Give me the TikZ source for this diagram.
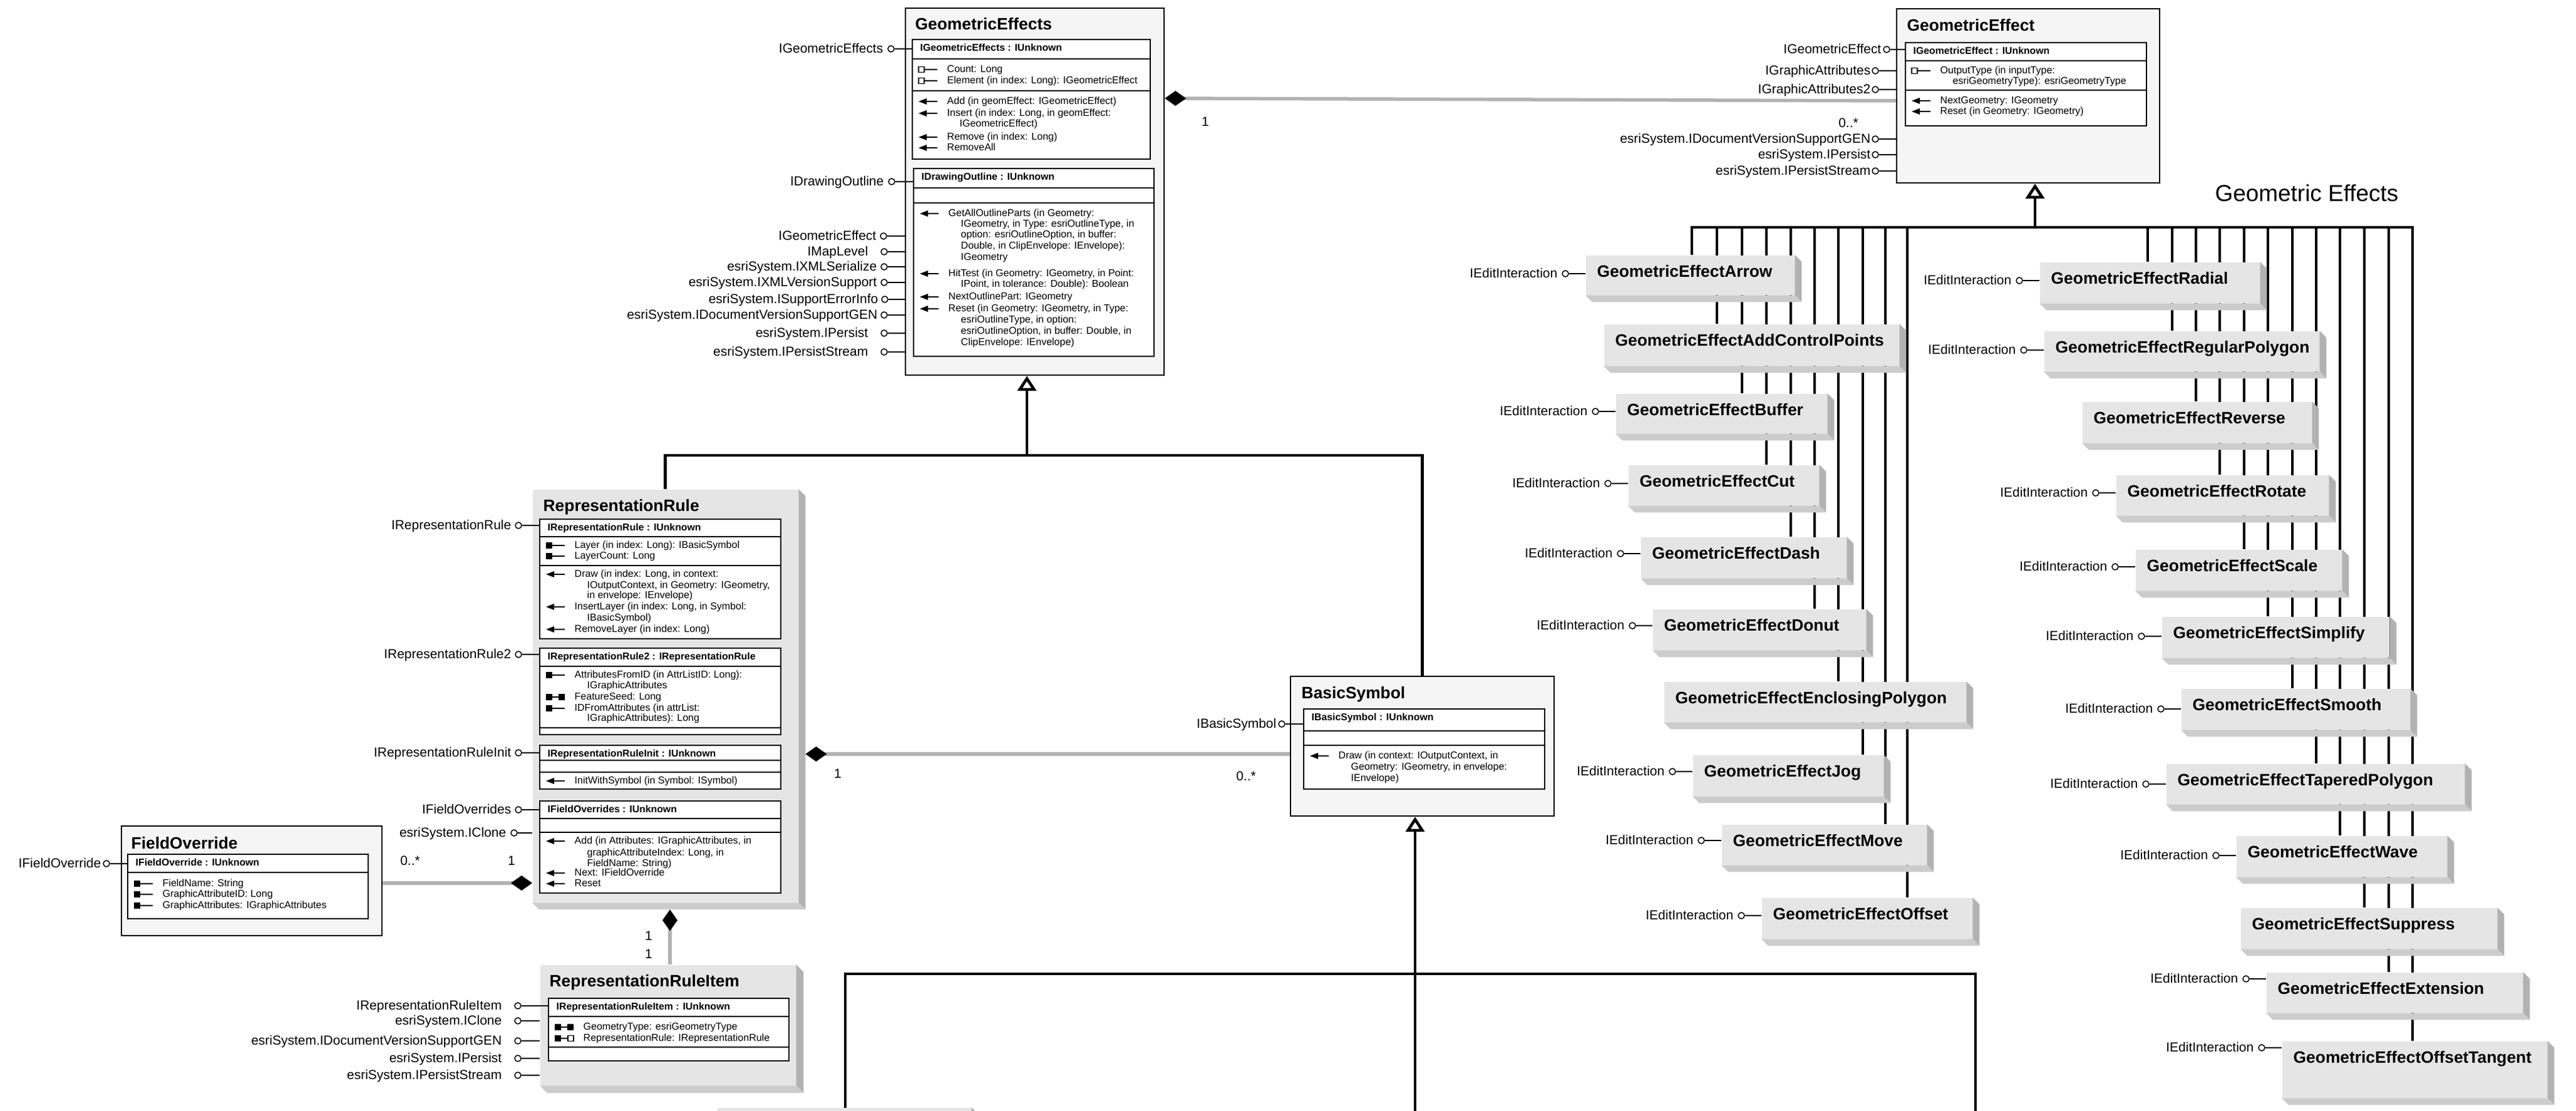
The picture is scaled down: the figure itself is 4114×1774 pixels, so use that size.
\documentclass[tikz,border=0pt]{standalone}
\usepackage{fontspec}
\setmainfont{Liberation Sans}
\usetikzlibrary{arrows.meta,backgrounds}

% text sizes, one picture unit is 0.1mm
\newcommand\fttl{\fontsize{7.5pt}{9pt}\selectfont\bfseries}
\newcommand\flab{\fontsize{5.97pt}{7pt}\selectfont}
\newcommand\fhdr{\fontsize{4.5pt}{5.4pt}\selectfont\bfseries}
\newcommand\fmem{\fontsize{4.55pt}{5.4pt}\selectfont}
\newcommand\fbig{\fontsize{10.5pt}{12pt}\selectfont}

\newcounter{mln}
\newcounter{lol}

\tikzset{
  ttl/.style={font=\fttl,inner sep=0pt,anchor=west,text height=1.9mm,text depth=0.32mm},
  lab/.style={font=\flab,inner sep=0pt,anchor=east,text height=1.5mm,text depth=0.25mm},
  mult/.style={font=\flab,inner sep=0pt,text height=1.5mm,text depth=0.25mm},
  hdr/.style={font=\fhdr,inner sep=0pt,anchor=west,text height=1.12mm,text depth=0.19mm},
  mem/.style={font=\fmem,inner sep=0pt,anchor=west,text height=1.15mm,text depth=0.2mm},
  cls/.style={draw,fill=black!4,line width=0.22mm,anchor=north west,inner sep=0pt},
  ibx/.style={draw,fill=white,line width=0.2mm,anchor=north west,inner sep=0pt},
  face/.style={fill=black!10,anchor=north west,inner sep=0pt},
  shR/.style={fill=black!30},
  shB/.style={fill=black!20},
  sect/.style={line width=0.2mm},
  icl/.style={line width=0.18mm},
  lolc/.style={circle,draw,line width=0.15mm,minimum size=1.0mm,inner sep=0pt},
  stick/.style={line width=0.18mm},
  gen/.style={line width=0.46mm,line join=miter},
  genarr/.style={gen,-{Triangle[open,length=2.4mm,width=3.0mm]}},
  comp/.style={draw=black!30,line width=0.55mm,
    -{Diamond[color=black,length=3.4mm,width=2.4mm,line width=0pt]}},
}

% box from its corners (l,t) (r,b)
\newcommand\clsbox[6][cls]{%
  \node[#1,minimum width={(#5-#3)*0.1mm},minimum height={(#6-#4)*0.1mm}] (#2) at (#3,#4) {};}
\newcommand\bevel[2][1.1mm]{%
  \fill[shR] (#2.north east) -- ++(#1,-#1) -- ([shift={(#1,-#1)}]#2.south east) -- (#2.south east) -- cycle;
  \fill[shB] (#2.south west) -- (#2.south east) -- ([shift={(#1,-#1)}]#2.south east)
    -- ([shift={(#1,-#1)}]#2.south west) -- cycle;}
\newcommand\intbox[7]{%
  \clsbox[ibx]{#1}{#2}{#3}{#4}{#5}
  \foreach \d in {#6} {\draw[sect] (#2,\d) -- (#4,\d);}
  \node[hdr] (#1-h) at (#2+13,#3+15) {#7};}
% m method, g get, f get (filled), w get/put, r get/putref
\newcommand\micon[3]{%
  \if m#1\fill (#2,#3) -- (#2+13,#3-5) -- (#2+13,#3+5) -- cycle; \draw[icl] (#2+11,#3) -- (#2+30,#3);\fi
  \if g#1\draw[icl] (#2,#3-4.5) rectangle (#2+9,#3+4.5) (#2+9,#3) -- (#2+30,#3);\fi
  \if f#1\fill (#2,#3-5) rectangle (#2+10,#3+5); \draw[icl] (#2+10,#3) -- (#2+30,#3);\fi
  \if w#1\fill (#2,#3-5) rectangle (#2+10,#3+5) (#2+20,#3-5) rectangle (#2+30,#3+5);
    \draw[icl] (#2+10,#3) -- (#2+20,#3);\fi
  \if r#1\fill (#2,#3-5) rectangle (#2+10,#3+5);
    \draw[icl] (#2+10,#3) -- (#2+21,#3) (#2+21,#3-4.5) rectangle (#2+30,#3+4.5);\fi}
\newcommand\mline[4]{%
  \stepcounter{mln}\edef\mname{m\arabic{mln}}%
  \if n#3\node[mem] (\mname) at (#1+76,#2) {#4};%
  \else\node[mem] (\mname) at (#1+56,#2) {#4};\micon{#3}{#1+11}{#2}\fi}
\newcommand\lolly[5]{%
  \stepcounter{lol}\edef\lname{o\arabic{lol}}%
  \node[lolc] (\lname) at (#1,#2) {};
  \node[lab] (\lname-t) at (#3,#2) {#5};
  \draw[stick] (\lname) -- (\lname -| #4.west);}

\begin{document}
\begin{tikzpicture}[x=0.1mm,y=-0.1mm]
	\useasboundingbox (0,0) rectangle (4114,1774);
	\clip (0,0) rectangle (4114,1774);

	% GeometricEffects
	\clsbox{gfx}{1445}{12}{1858}{598}
	\node[ttl] (gfx-t) at (1461,40) {GeometricEffects};
	\intbox{ige}{1456}{62}{1836}{253}{94,145}{IGeometricEffects : IUnknown}
	\mline{1456}{111}{g}{Count: Long}
	\mline{1456}{129}{g}{Element (in index: Long): IGeometricEffect}
	\mline{1456}{162}{m}{Add (in geomEffect: IGeometricEffect)}
	\mline{1456}{181}{m}{Insert (in index: Long, in geomEffect:}
	\mline{1456}{198}{n}{IGeometricEffect)}
	\mline{1456}{219}{m}{Remove (in index: Long)}
	\mline{1456}{236}{m}{RemoveAll}
	\intbox{ido}{1458}{268}{1842}{568}{300,324}{IDrawingOutline : IUnknown}
	\mline{1458}{341}{m}{GetAllOutlineParts (in Geometry:}
	\mline{1458}{358}{n}{IGeometry, in Type: esriOutlineType, in}
	\mline{1458}{375}{n}{option: esriOutlineOption, in buffer:}
	\mline{1458}{393}{n}{Double, in ClipEnvelope: IEnvelope):}
	\mline{1458}{411}{n}{IGeometry}
	\mline{1458}{437}{m}{HitTest (in Geometry: IGeometry, in Point:}
	\mline{1458}{454}{n}{IPoint, in tolerance: Double): Boolean}
	\mline{1458}{474}{m}{NextOutlinePart: IGeometry}
	\mline{1458}{493}{m}{Reset (in Geometry: IGeometry, in Type:}
	\mline{1458}{511}{n}{esriOutlineType, in option:}
	\mline{1458}{529}{n}{esriOutlineOption, in buffer: Double, in}
	\mline{1458}{547}{n}{ClipEnvelope: IEnvelope)}
	\lolly{1423}{78}{1411}{ige}{IGeometricEffects}
	\lolly{1424}{290}{1412}{ido}{IDrawingOutline}
	\lolly{1411}{377}{1400}{gfx}{IGeometricEffect}
	\lolly{1412}{402}{1387}{gfx}{IMapLevel}
	\lolly{1412}{426}{1401}{gfx}{esriSystem.IXMLSerialize}
	\lolly{1412}{451}{1401}{gfx}{esriSystem.IXMLVersionSupport}
	\lolly{1413}{478}{1403}{gfx}{esriSystem.ISupportErrorInfo}
	\lolly{1412}{503}{1402}{gfx}{esriSystem.IDocumentVersionSupportGEN}
	\lolly{1412}{532}{1387}{gfx}{esriSystem.IPersist}
	\lolly{1412}{562}{1387}{gfx}{esriSystem.IPersistStream}

	% GeometricEffect
	\clsbox{gf}{3028}{13}{3448}{291}
	\node[ttl] (gf-t) at (3045,42) {GeometricEffect};
	\intbox{igf}{3042}{67}{3427}{200}{97,144}{IGeometricEffect : IUnknown}
	\mline{3042}{113}{g}{OutputType (in inputType:}
	\mline{3042}{130}{n}{esriGeometryType): esriGeometryType}
	\mline{3042}{161}{m}{NextGeometry: IGeometry}
	\mline{3042}{178}{m}{Reset (in Geometry: IGeometry)}
	\lolly{3013}{79}{3005}{igf}{IGeometricEffect}
	\lolly{2995}{113}{2988}{gf}{IGraphicAttributes}
	\lolly{2995}{143}{2988}{gf}{IGraphicAttributes2}
	\lolly{2995}{222}{2988}{gf}{esriSystem.IDocumentVersionSupportGEN}
	\lolly{2995}{247}{2988}{gf}{esriSystem.IPersist}
	\lolly{2995}{273}{2988}{gf}{esriSystem.IPersistStream}

	% RepresentationRule
	\clsbox[face]{rr}{850}{781}{1274}{1440}
	\bevel{rr}
	\node[ttl] (rr-t) at (867,809) {RepresentationRule};
	\intbox{irr}{861}{828}{1246}{1019}{857,903}{IRepresentationRule : IUnknown}
	\mline{861}{871}{f}{Layer (in index: Long): IBasicSymbol}
	\mline{861}{888}{f}{LayerCount: Long}
	\mline{861}{917}{m}{Draw (in index: Long, in context:}
	\mline{861}{935}{n}{IOutputContext, in Geometry: IGeometry,}
	\mline{861}{951}{n}{in envelope: IEnvelope)}
	\mline{861}{969}{m}{InsertLayer (in index: Long, in Symbol:}
	\mline{861}{987}{n}{IBasicSymbol)}
	\mline{861}{1005}{m}{RemoveLayer (in index: Long)}
	\intbox{irr2}{861}{1034}{1246}{1172}{1064,1162}{IRepresentationRule2 : IRepresentationRule}
	\mline{861}{1078}{f}{AttributesFromID (in AttrListID: Long):}
	\mline{861}{1095}{n}{IGraphicAttributes}
	\mline{861}{1113}{w}{FeatureSeed: Long}
	\mline{861}{1131}{f}{IDFromAttributes (in attrList:}
	\mline{861}{1147}{n}{IGraphicAttributes): Long}
	\intbox{irri}{861}{1189}{1246}{1259}{1214,1233}{IRepresentationRuleInit : IUnknown}
	\mline{861}{1247}{m}{InitWithSymbol (in Symbol: ISymbol)}
	\intbox{ifos}{861}{1278}{1246}{1425}{1307,1329}{IFieldOverrides : IUnknown}
	\mline{861}{1343}{m}{Add (in Attributes: IGraphicAttributes, in}
	\mline{861}{1362}{n}{graphicAttributeIndex: Long, in}
	\mline{861}{1379}{n}{FieldName: String)}
	\mline{861}{1394}{m}{Next: IFieldOverride}
	\mline{861}{1411}{m}{Reset}
	\lolly{828}{839}{817}{irr}{IRepresentationRule}
	\lolly{828}{1045}{817}{irr2}{IRepresentationRule2}
	\lolly{828}{1202}{817}{irri}{IRepresentationRuleInit}
	\lolly{828}{1293}{817}{ifos}{IFieldOverrides}
	\lolly{821}{1330}{809}{rr}{esriSystem.IClone}

	% BasicSymbol
	\clsbox{bs}{2060}{1079}{2481}{1302}
	\node[ttl] (bs-t) at (2078,1108) {BasicSymbol};
	\intbox{ibs}{2081}{1131}{2466}{1259}{1167,1190}{IBasicSymbol : IUnknown}
	\mline{2081}{1207}{m}{Draw (in context: IOutputContext, in}
	\mline{2081}{1225}{n}{Geometry: IGeometry, in envelope:}
	\mline{2081}{1243}{n}{IEnvelope)}
	\lolly{2047}{1156}{2039}{ibs}{IBasicSymbol}

	% FieldOverride
	\clsbox{fo}{193}{1318}{609}{1493}
	\node[ttl] (fo-t) at (209,1348) {FieldOverride};
	\intbox{ifo}{203}{1363}{587}{1466}{1393}{IFieldOverride : IUnknown}
	\mline{203}{1411}{f}{FieldName: String}
	\mline{203}{1428}{f}{GraphicAttributeID: Long}
	\mline{203}{1446}{f}{GraphicAttributes: IGraphicAttributes}
	\lolly{170}{1379}{162}{ifo}{IFieldOverride}

	% RepresentationRuleItem
	\clsbox[face]{rri}{862}{1540}{1270}{1732}
	\bevel[1.2mm]{rri}
	\node[ttl] (rri-t) at (877,1568) {RepresentationRuleItem};
	\intbox{iri}{875}{1593}{1259}{1693}{1623,1672}{IRepresentationRuleItem : IUnknown}
	\mline{875}{1640}{w}{GeometryType: esriGeometryType}
	\mline{875}{1658}{r}{RepresentationRule: IRepresentationRule}
	\lolly{827}{1606}{802}{iri}{IRepresentationRuleItem}
	\lolly{827}{1630}{802}{rri}{esriSystem.IClone}
	\lolly{827}{1662}{802}{rri}{esriSystem.IDocumentVersionSupportGEN}
	\lolly{827}{1690}{802}{rri}{esriSystem.IPersist}
	\lolly{827}{1717}{802}{rri}{esriSystem.IPersistStream}

	% geometric effect classes, hung from the bus at y=363
	\foreach \nm/\l/\t/\r/\b/\lx/\ly/\ttx in {
		arw/2532/407/2865/470/2702/437/GeometricEffectArrow,
		acp/2561/517/3032/583/2742/0/GeometricEffectAddControlPoints,
		buf/2580/628/2917/691/2782/657/GeometricEffectBuffer,
		cut/2600/742/2904/806/2821/772/GeometricEffectCut,
		dsh/2620/857/2948/922/2860/884/GeometricEffectDash,
		dnt/2639/972/2979/1037/2898/999/GeometricEffectDonut,
		enc/2657/1088/3139/1152/2936/0/GeometricEffectEnclosingPolygon,
		jog/2703/1205/3007/1270/2975/1232/GeometricEffectJog,
		mov/2749/1316/3076/1380/3011/1342/GeometricEffectMove,
		off/2813/1433/3149/1498/3046/1462/GeometricEffectOffset,
		rad/3257/418/3608/483/3430/448/GeometricEffectRadial,
		rpg/3264/528/3703/592/3469/559/GeometricEffectRegularPolygon,
		rev/3325/641/3691/706/3507/0/GeometricEffectReverse,
		rot/3379/758/3718/822/3545/787/GeometricEffectRotate,
		scl/3410/877/3739/942/3584/905/GeometricEffectScale,
		smp/3452/984/3815/1049/3622/1016/GeometricEffectSimplify,
		smo/3483/1099/3848/1164/3661/1132/GeometricEffectSmooth,
		tpg/3459/1219/3935/1283/3699/1252/GeometricEffectTaperedPolygon,
		wav/3571/1334/3907/1399/3737/1366/GeometricEffectWave,
		sup/3578/1449/3987/1514/3776/0/GeometricEffectSuppress,
		ext/3619/1552/4028/1616/3815/1563/GeometricEffectExtension,
		otg/3644/1662/4067/1752/3853/1673/GeometricEffectOffsetTangent}
	{
		\clsbox[face]{\nm}{\l}{\t}{\r}{\b}
		\bevel{\nm}
		\node[ttl] (\nm-t) at (\l+18,\t+27.5) {\ttx};
		\coordinate (\nm-b) at (\lx,363);
		\begin{scope}[on background layer]
			\draw[gen] (\nm-b) -- (\nm-b |- \nm.north);
		\end{scope}
		\ifnum\ly>0 \lolly{\l-32}{\ly}{\l-44}{\nm}{IEditInteraction}\fi
	}
	\begin{scope}[on background layer]
		\draw[gen] (arw-b |- arw.north) -- (arw-b) -- (otg-b) -- (otg-b |- otg.north);
	\end{scope}
	\node[font=\fbig,inner sep=0pt,anchor=west,text height=2.66mm,text depth=0.44mm] (gtitle) at (3537,310) {Geometric Effects};

	% inheritance
	\coordinate (j1) at (1640,727);
	\draw[genarr] (j1) -- (j1 |- gfx.south);
	\draw[gen] (rr.north) |- (j1) -| (bs.north);
	\coordinate (j2) at (3250,363);
	\draw[genarr] (j2) -- (j2 |- gf.south);
	\coordinate (j3) at (2260,1790);
	\draw[genarr] (j3) -- (j3 |- bs.south);
	\coordinate (j4) at (1350,1555);
	\coordinate (q1) at (1350,1790);
	\coordinate (q2) at (3155,1790);
	\draw[gen] (q1) -- (j4) -| (q2);
	\clsbox[face]{bx}{1145}{1768}{1550}{1830}
	\bevel{bx}

	% compositions
	\coordinate (k1) at (3028,161);
	\coordinate (k1a) at (1858,157);
	\draw[comp] (k1 -| gf.west) -- (k1a -| gfx.east);
	\node[mult] (n1) at (1925,195) {1};
	\node[mult] (n2) at (2952,197) {0..*};
	\coordinate (k2) at (2060,1204);
	\draw[comp] (k2 -| bs.west) -- ([xshift=1.1mm]k2 -| rr.east);
	\node[mult] (n3) at (1338,1236) {1};
	\node[mult] (n4) at (1990,1240) {0..*};
	\coordinate (k3) at (609,1410);
	\draw[comp] (k3 -| fo.east) -- (k3 -| rr.west);
	\node[mult] (n5) at (655,1375) {0..*};
	\node[mult] (n6) at (817,1375) {1};
	\coordinate (k4) at (1070,1540);
	\draw[comp] (k4 |- rri.north) -- ([yshift=-1.1mm]k4 |- rr.south);
	\node[mult] (n7) at (1036,1495) {1};
	\node[mult] (n8) at (1036,1524) {1};

\end{tikzpicture}
\end{document}
